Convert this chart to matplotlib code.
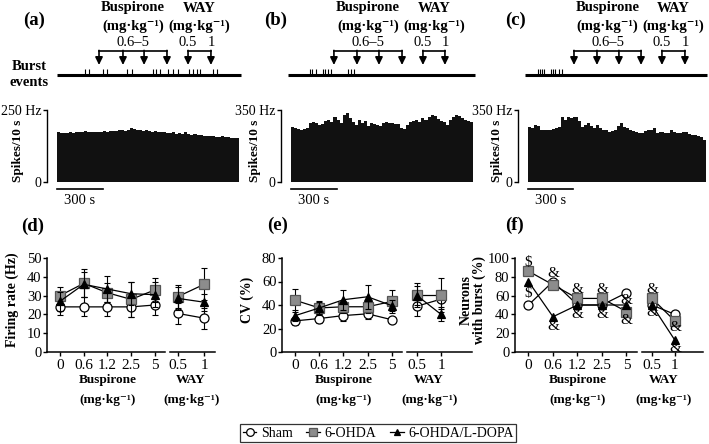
import matplotlib
matplotlib.use("Agg")
import numpy as np
import matplotlib.pyplot as plt
import matplotlib.transforms as mtransforms
from matplotlib.lines import Line2D

plt.rcParams['font.family'] = ['Liberation Serif', 'DejaVu Serif']

W, H = 709, 444

# ---------------- data ----------------
# spike rate histograms (spikes per bin), 60 bins of 20 s
bin_s = 20
rate_a = [172, 170, 171, 170, 172, 171, 173, 172, 174, 176,
          173, 175, 174, 172, 175, 176, 174, 177, 178, 176,
          179, 180, 178, 182, 189, 184, 181, 180, 178, 179,
          176, 175, 177, 174, 172, 175, 170, 171, 173, 168,
          170, 166, 172, 165, 163, 166, 162, 164, 160, 161,
          158, 160, 157, 156, 158, 155, 156, 154, 153, 152]
rate_b = [269, 262, 258, 255, 260, 262, 285, 290, 288, 278,
          280, 295, 300, 292, 318, 300, 285, 326, 334, 310,
          290, 278, 300, 288, 295, 272, 285, 280, 276, 270,
          285, 293, 288, 285, 282, 283, 262, 258, 275, 290,
          298, 302, 290, 310, 300, 318, 326, 322, 305, 295,
          290, 278, 300, 318, 326, 320, 310, 300, 295, 290]
rate_c = [269, 262, 277, 270, 255, 253, 252, 255, 258, 261,
          265, 318, 300, 318, 310, 318, 318, 295, 265, 275,
          285, 270, 262, 277, 262, 253, 255, 245, 248, 253,
          270, 285, 268, 262, 253, 250, 245, 240, 237, 250,
          253, 255, 261, 237, 245, 242, 237, 240, 253, 245,
          237, 240, 245, 242, 235, 229, 228, 224, 220, 204]
rate_max = [250, 350, 350]

# burst event times (s)
burst_a = [185, 211, 303, 330, 462, 494, 633, 653, 679, 732, 765, 798,
           870, 897, 923, 943, 1029, 1055]
burst_b = [125, 140, 165, 213, 224, 246, 262, 378, 394, 415]
burst_c = [67, 81, 94, 108, 155, 169, 182, 209, 229]

# injection times (s)
busp_inj = [[277, 435, 574, 725], [283, 435, 580, 732], [310, 465, 613, 762]]
way_inj = [[864, 1015], [870, 1015], [903, 1058]]

busp_doses = ['0', '0.6', '1.2', '2.5', '5']
way_doses = ['0.5', '1']

# firing rate (Hz): 5 buspirone doses then 2 WAY doses
fr_sham = [24, 24, 24, 24, 25, 20.5, 18]
fr_sham_err = [4.5, 5, 5, 5.5, 5.5, 5.5, 5.5]
fr_ohda = [30, 36.5, 31.5, 28, 33, 29.5, 36]
fr_ohda_err = [4.5, 7.5, 5, 9.5, 6.5, 6, 8.5]
fr_ldopa = [27, 36, 33.5, 31, 30.5, 28.5, 26.5]
fr_ldopa_err = [5, 6.5, 7, 6, 6.5, 6, 4.5]

# coefficient of variation (%)
cv_sham = [26.5, 28.5, 31, 32.5, 27.5, 39, 45]
cv_sham_err = [3.5, 4, 4.5, 4.5, 2, 8, 8]
cv_ohda = [44, 37.5, 38.5, 38.5, 43, 48.5, 48.5]
cv_ohda_err = [10, 6, 5, 5, 10, 10, 14.5]
cv_ldopa = [31, 37.5, 44.5, 47, 39.5, 48, 32]
cv_ldopa_err = [5, 5, 8.5, 10, 5, 8, 6]

# neurons with burst (%)
nb_sham = [50, 75, 50, 50, 63, 50, 40]
nb_ohda = [86, 71.5, 57, 57, 43, 57, 33]
nb_ldopa = [75, 37.5, 50, 50, 50, 50, 12.5]

# significance marks in (f): (dose index, y, symbol)
nb_marks = [(0, 95, r'\$'), (0, 62, r'\$'),
            (1, 83, '&'), (1, 27, '&'),
            (2, 66, '&'), (2, 40, '&'),
            (3, 66, '&'), (3, 40, '&'),
            (4, 55, '&'), (4, 34, '&'),
            (5, 66, '&'), (5, 42, '&'),
            (6, 26, '&'), (6, 4, '&')]

MG = '(mg\u00b7kg\u207b\u00b9)'

fig = plt.figure(figsize=(W / 100, H / 100), dpi=100)


def px_axes(x0, y0, x1, y1):
    return fig.add_axes([x0 / W, 1 - y1 / H, (x1 - x0) / W, (y1 - y0) / H])


def fig_text(x, y, s, **kw):
    fig.text(x / W, 1 - y / H, s, **kw)


# ---------------- top row: burst events + rate histograms ----------------
top = [
    dict(label='(a)', lab_x=34, x0=57, x1=239, ylab_x=18, rates=rate_a, bursts=burst_a),
    dict(label='(b)', lab_x=276, x0=291, x1=473, ylab_x=255, rates=rate_b, bursts=burst_b),
    dict(label='(c)', lab_x=516, x0=528, x1=706, ylab_x=497, rates=rate_c, bursts=burst_c),
]

for i, p in enumerate(top):
    n = len(p['rates'])
    t_end = n * bin_s

    # histogram
    ax = px_axes(p['x0'], 110, p['x1'], 182)
    ax.bar(np.arange(n) * bin_s, p['rates'], width=bin_s, align='edge',
           color='#111111', linewidth=0)
    ax.set_xlim(0, t_end)
    ax.set_ylim(0, rate_max[i])
    for s in ['top', 'right', 'bottom']:
        ax.spines[s].set_visible(False)
    ax.spines['left'].set_position(('outward', 7))
    ax.spines['left'].set_linewidth(1.0)
    ax.set_xticks([])
    ax.set_yticks([0, rate_max[i]])
    ax.set_yticklabels(['0', f'{rate_max[i]} Hz'], fontsize=10)
    ax.tick_params(axis='y', length=3, width=1.0, pad=1)
    fig_text(p['ylab_x'], 151, 'Spikes/10 s', rotation=90, ha='center',
             va='center', fontsize=9.5, fontweight='bold')

    # 300 s scale bar
    tr = mtransforms.blended_transform_factory(ax.transData, ax.transAxes)
    ax.plot([0, 300], [-0.1, -0.1], color='black', lw=1.2, transform=tr,
            clip_on=False)
    ax.text(150, -0.26, '300 s', transform=tr, ha='center', va='center',
            fontsize=10.5)

    # burst events and injection brackets
    ev = px_axes(p['x0'], 0, p['x1'], 80)
    ev.set_xlim(0, t_end)
    ev.set_ylim(80, 0)
    ev.axis('off')
    ev.plot([-20 if i else 0, t_end + 10], [75.5, 75.5], color='black',
            lw=2.2, clip_on=False, solid_capstyle='butt')
    ev.vlines(p['bursts'], 69, 75, color='black', lw=0.8)

    for inj, name in [(busp_inj[i], 'Buspirone'), (way_inj[i], 'WAY')]:
        ev.plot([inj[0], inj[-1]], [51, 51], color='black', lw=1.2)
        for t in inj:
            ev.annotate('', xy=(t, 65), xytext=(t, 50.4),
                        arrowprops=dict(arrowstyle='-|>,head_length=0.45,head_width=0.22',
                                        color='black', lw=1.2,
                                        shrinkA=0, shrinkB=0))
        cx = (inj[0] + inj[-1]) / 2
        ev.text(cx, 8, name, ha='center', va='center', fontsize=10.5,
                fontweight='bold')
        ev.text(cx, 26, MG, ha='center', va='center', fontsize=10.5,
                fontweight='bold')
    ev.text(np.mean([busp_inj[i][0], busp_inj[i][-1]]), 42, '0.6\u20135',
            ha='center', va='center', fontsize=10.5)
    ev.text(way_inj[i][0], 42, '0.5', ha='center', va='center', fontsize=10.5)
    ev.text(way_inj[i][1], 42, '1', ha='center', va='center', fontsize=10.5)

    fig_text(p['lab_x'], 20, p['label'], ha='center', va='center',
             fontsize=13.5, fontweight='bold')

fig_text(29, 67, 'Burst', ha='center', va='center', fontsize=10.5,
         fontweight='bold')
fig_text(29, 83, 'events', ha='center', va='center', fontsize=10.5,
         fontweight='bold')

# ---------------- bottom row: summary panels ----------------
sty_sham = dict(color='black', marker='o', mfc='white', mec='black', ms=6.5,
                mew=0.9, lw=0.9)
sty_ohda = dict(color='black', marker='s', mfc='#8c8c8c', mec='#555555', ms=7,
                mew=0.9, lw=0.9)
sty_ldopa = dict(color='black', marker='^', mfc='black', mec='black', ms=5.5,
                 mew=0.9, lw=0.9)
err_kw = dict(ecolor='black', elinewidth=0.8, capsize=2.2, capthick=0.8)

bottom = [
    dict(label='(d)', lab=(33, 226), L=(47, 165), R=(170, 215), ylim=50,
         yt=[0, 10, 20, 30, 40, 50], ylab='Firing rate (Hz)', ylab_x=12,
         series=[(fr_sham, fr_sham_err, sty_sham), (fr_ohda, fr_ohda_err, sty_ohda),
                 (fr_ldopa, fr_ldopa_err, sty_ldopa)], rxlim=(-0.31, 1.42)),
    dict(label='(e)', lab=(278, 225), L=(282, 402), R=(407, 472), ylim=80,
         yt=[0, 20, 40, 60, 80], ylab='CV (%)', ylab_x=247,
         series=[(cv_sham, cv_sham_err, sty_sham), (cv_ohda, cv_ohda_err, sty_ohda),
                 (cv_ldopa, cv_ldopa_err, sty_ldopa)], rxlim=(-0.42, 2.29)),
    dict(label='(f)', lab=(515, 225), L=(515, 637), R=(642, 703), ylim=100,
         yt=[0, 20, 40, 60, 80, 100], ylab='Neurons\nwith burst (%)', ylab_x=473,
         series=[(nb_sham, None, sty_sham), (nb_ohda, None, sty_ohda),
                 (nb_ldopa, None, sty_ldopa)], rxlim=(-0.43, 2.22)),
]

xb = np.arange(len(busp_doses))
xw = np.arange(len(way_doses))

for p in bottom:
    axL = px_axes(p['L'][0], 258, p['L'][1], 352)
    axR = px_axes(p['R'][0], 258, p['R'][1], 352)
    nb = len(busp_doses)
    for vals, errs, sty in p['series']:
        if errs is not None:
            axL.errorbar(xb, vals[:nb], yerr=errs[:nb], fmt='none', **err_kw)
            axR.errorbar(xw, vals[nb:], yerr=errs[nb:], fmt='none', **err_kw)
        axL.plot(xb, vals[:nb], **sty)
        axR.plot(xw, vals[nb:], **sty)

    for ax, labs, xl in [(axL, busp_doses, (-0.55, 4.43)), (axR, way_doses, p['rxlim'])]:
        ax.set_ylim(0, p['ylim'])
        ax.set_xlim(*xl)
        ax.set_xticks(np.arange(len(labs)))
        ax.set_xticklabels(labs, fontsize=11)
        ax.spines['top'].set_visible(False)
        ax.spines['right'].set_visible(False)
        ax.spines['bottom'].set_linewidth(1.1)
        ax.spines['left'].set_linewidth(1.1)
        ax.tick_params(length=3, width=1.0, pad=2)
        for c in ax.collections + ax.lines:
            c.set_clip_on(False)
    axL.set_yticks(p['yt'])
    axL.set_yticklabels([str(v) for v in p['yt']], fontsize=10.5)
    axL.tick_params(axis='y', pad=1)
    axR.spines['left'].set_visible(False)
    axR.set_yticks([])

    for ax, name, cx in [(axL, 'Buspirone', 2), (axR, 'WAY', 0.5)]:
        tr = mtransforms.blended_transform_factory(ax.transData, ax.transAxes)
        ax.text(cx, -0.3, name, transform=tr, ha='center', va='center',
                fontsize=9.5, fontweight='bold')
        ax.text(cx, -0.51, MG, transform=tr, ha='center', va='center',
                fontsize=9.5, fontweight='bold')

    fig_text(p['ylab_x'], 300, p['ylab'], rotation=90, ha='center',
             va='center', fontsize=10, fontweight='bold', linespacing=0.95)
    fig_text(p['lab'][0], p['lab'][1], p['label'], ha='center', va='center',
             fontsize=13.5, fontweight='bold')

    if p['label'] == '(f)':
        for idx, y, s in nb_marks:
            ax = axL if idx < nb else axR
            x = idx if idx < nb else idx - nb
            ax.text(x, y, s, ha='center', va='center', fontsize=11,
                    clip_on=False)

# legend
handles = [Line2D([], [], **sty_sham), Line2D([], [], **sty_ohda),
           Line2D([], [], **sty_ldopa)]
leg = fig.legend(handles, ['Sham', '6-OHDA', '6-OHDA/L-DOPA'], ncol=3,
                 loc='center', bbox_to_anchor=(378 / W, 1 - 433 / H),
                 fontsize=10, frameon=True, fancybox=False, handlelength=1.0,
                 handletextpad=0.3, columnspacing=1.0, borderpad=0.2,
                 borderaxespad=0, markerscale=0.85)
leg.get_frame().set_edgecolor('black')
leg.get_frame().set_linewidth(0.9)

fig.savefig('out.png', dpi=100)
